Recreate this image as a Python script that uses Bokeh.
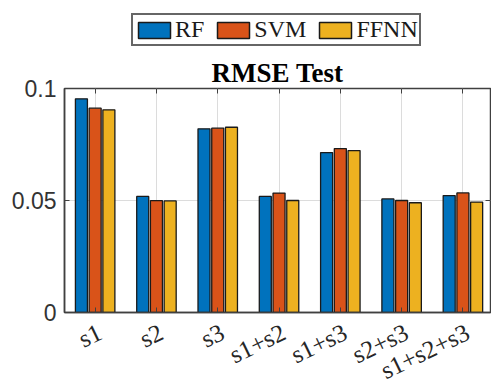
from bokeh.plotting import figure
from bokeh.layouts import column
from bokeh.models import (ColumnDataSource, Range1d, FixedTicker, Legend, LegendItem,
                          LinearAxis, Title, LabelSet)
from bokeh.embed import file_html
from bokeh.resources import INLINE

categories = ["s1", "s2", "s3", "s1+s2", "s1+s3", "s2+s3", "s1+s2+s3"]
series_names = ["RF", "SVM", "FFNN"]
rf = [0.0954, 0.0518, 0.0820, 0.0518, 0.0714, 0.0507, 0.0522]
svm = [0.0912, 0.0499, 0.0823, 0.0533, 0.0732, 0.0500, 0.0534]
ffnn = [0.0905, 0.0498, 0.0827, 0.0500, 0.0723, 0.0490, 0.0493]
y_ticks = [0, 0.05, 0.1]
y_tick_labels = ["0", "0.05", "0.1"]
colors = ["#0072BD", "#D95319", "#EDB120"]

xs = list(range(1, len(categories) + 1))
offsets = [-0.224, 0.0, 0.224]
bar_w = 0.196

x_range = Range1d(0.5, 7.45)
sources = [ColumnDataSource(dict(x=[x + off for x in xs], top=vals))
           for vals, off in zip([rf, svm, ffnn], offsets)]

# ---------------- legend strip (top) ----------------
leg_fig = figure(width=491, height=50, output_backend="svg", toolbar_location=None,
                 x_range=Range1d(0.5, 7.45), y_range=Range1d(0, 0.1),
                 x_axis_type=None, y_axis_type=None,
                 min_border_left=0, min_border_right=0, min_border_top=0,
                 min_border_bottom=0)
leg_fig.grid.visible = False
leg_fig.outline_line_color = None
leg_fig.border_fill_color = "white"
leg_renderers = []
for src, col in zip(sources, colors):
    r = leg_fig.vbar(x="x", top="top", width=bar_w, source=src, fill_color=col,
                     line_color="#1a1a1a", line_width=1.5)
    r.visible = False
    leg_renderers.append(r)
legend = Legend(items=[LegendItem(label=n, renderers=[r]) for n, r in zip(series_names, leg_renderers)],
                orientation="horizontal", location=(67, 4),
                glyph_width=40, glyph_height=20, label_standoff=1, spacing=9,
                padding=1, margin=0,
                label_text_font="Liberation Serif", label_text_font_size="24px",
                label_text_color="#1a1a1a",
                border_line_color="#666666", border_line_width=2, border_line_alpha=1,
                background_fill_color="white", background_fill_alpha=1)
leg_fig.add_layout(legend, "center")

# ---------------- main chart ----------------
p = figure(width=491, height=273, output_backend="svg", toolbar_location=None,
           x_range=x_range, y_range=Range1d(0, 0.1),
           min_border_left=64, min_border_right=1, min_border_top=38,
           min_border_bottom=11)
p.title = Title(text="RMSE Test", align="center", text_font="Liberation Serif",
                text_font_size="27px", text_font_style="bold", text_color="#000000",
                standoff=2, offset=0)

for src, col in zip(sources, colors):
    p.vbar(x="x", top="top", width=bar_w, source=src, fill_color=col,
           line_color="#1a1a1a", line_width=1.3)

for ax in [p.xaxis[0], p.yaxis[0]]:
    ax.axis_line_color = "#404040"
    ax.axis_line_width = 1.5
    ax.major_tick_line_color = "#404040"
    ax.major_tick_in = 5
    ax.major_tick_out = 0
    ax.minor_tick_line_color = None

p.xaxis.ticker = FixedTicker(ticks=xs)
p.xaxis.major_label_text_font_size = "0px"
p.xaxis.major_label_text_color = None
p.xaxis.major_label_standoff = 0

p.yaxis.ticker = FixedTicker(ticks=y_ticks)
p.yaxis.major_label_overrides = {t: l for t, l in zip(y_ticks, y_tick_labels)}
p.yaxis.major_label_text_font = "Liberation Sans"
p.yaxis.major_label_text_font_size = "23px"
p.yaxis.major_label_text_color = "#333333"
p.yaxis.major_label_standoff = 8

top_ax = LinearAxis(ticker=FixedTicker(ticks=xs), major_label_text_font_size="0px",
                    major_label_text_color=None,
                    major_label_standoff=0, axis_line_color=None,
                    major_tick_in=5, major_tick_out=0, major_tick_line_color="#404040",
                    minor_tick_line_color=None)
right_ax = LinearAxis(ticker=FixedTicker(ticks=y_ticks), major_label_text_font_size="0px",
                      major_label_text_color=None,
                      major_label_standoff=0, axis_line_color=None,
                      major_tick_in=5, major_tick_out=0, major_tick_line_color="#404040",
                      minor_tick_line_color=None)
p.add_layout(top_ax, "above")
p.add_layout(right_ax, "right")

p.xgrid.ticker = FixedTicker(ticks=xs)
p.ygrid.ticker = FixedTicker(ticks=y_ticks)
p.grid.grid_line_color = "#dcdcdc"
p.grid.grid_line_width = 1

p.outline_line_color = "#404040"
p.outline_line_width = 1.5
p.background_fill_color = "white"
p.border_fill_color = "white"

# ---------------- rotated category labels (bottom strip) ----------------
lab_fig = figure(width=491, height=58, output_backend="svg", toolbar_location=None,
                 x_range=x_range, y_range=Range1d(0, 1),
                 x_axis_type=None, y_axis_type=None,
                 min_border_left=64, min_border_right=1, min_border_top=0,
                 min_border_bottom=0)
lab_fig.grid.visible = False
lab_fig.outline_line_color = None
lab_fig.border_fill_color = "white"
lab_src = ColumnDataSource(dict(x=xs, y=[1] * len(xs), text=categories))
labels = LabelSet(x="x", y="y", text="text", source=lab_src, angle=0.45,
                  text_align="right", text_baseline="top", x_offset=-1, y_offset=5,
                  text_font="Liberation Serif", text_font_size="25px",
                  text_color="#262626")
lab_fig.add_layout(labels)

layout = column(leg_fig, p, lab_fig, spacing=0)
open("out.html", "w").write(file_html(layout, INLINE))
